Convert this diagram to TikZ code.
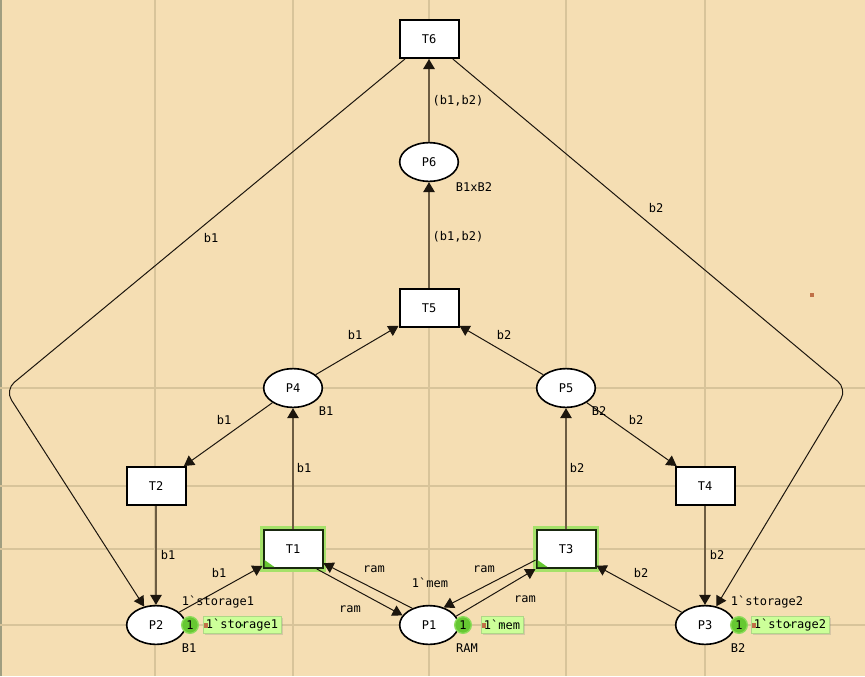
\documentclass[tikz,border=0pt]{standalone}
\usepackage{fontspec}
\setmonofont{DejaVu Sans Mono}
\usetikzlibrary{arrows.meta,shapes.geometric,shadows}

\definecolor{canvas}{RGB}{245,222,179}
\definecolor{guide}{RGB}{216,196,154}
\definecolor{pageedge}{RGB}{160,158,128}
\definecolor{arcink}{RGB}{28,22,14}
\definecolor{arcbrown}{RGB}{108,92,66}
\definecolor{tokengreen}{RGB}{102,200,50}
\definecolor{tokenrim}{RGB}{140,220,90}
\definecolor{markbox}{RGB}{204,255,153}
\definecolor{markrim}{RGB}{175,215,135}
\definecolor{glow}{RGB}{165,225,105}
\definecolor{enabledborder}{RGB}{25,40,15}
\definecolor{handle}{RGB}{192,112,72}
\definecolor{handledot}{RGB}{50,130,40}

\begin{document}
\begin{tikzpicture}[x=0.75pt,y=-0.75pt,
  font=\ttfamily\fontsize{9}{10.5}\selectfont,
  pntrans/.style={rectangle, draw=black, line width=1.5pt, fill=white,
    minimum width=44.25pt, minimum height=28.5pt, inner sep=0pt},
  pnenabled/.style={draw=enabledborder, preaction={draw=glow, line width=5.5pt}},
  pnplace/.style={ellipse, draw=black, line width=1.2pt, fill=white,
    minimum width=44pt, minimum height=29pt, inner sep=0pt},
  pnarc/.style={draw=arcink, line width=0.75pt,
    -{Triangle[length=7.5pt,width=8.5pt,color=arcink]}},
  guided/.style={draw=arcbrown, line width=1.4pt},
  lbl/.style={inner sep=0pt, text height=6.4pt, text depth=0pt, text=black},
  tokdot/.style={circle, fill=tokengreen, draw=tokenrim, line width=1pt,
    minimum size=12.5pt, inner sep=0pt, text=black},
  mkbox/.style={rectangle, fill=markbox, draw=markrim, line width=0.5pt,
    minimum height=12.75pt, inner xsep=2.2pt, inner ysep=0pt, text=black,
    drop shadow={opacity=0.25, shadow xshift=1.2pt, shadow yshift=-1.2pt}},
]
% page and guide lines
\useasboundingbox (0,0) rectangle (865,676);
\fill[canvas] (0,0) rectangle (865,676);
\draw[pageedge, line width=1.2pt] (0.8,0) -- (0.8,676);
\foreach \gx in {155,293,429,566,705}
  \draw[guide, line width=1.5pt] (\gx,0) -- (\gx,676);
\foreach \gy in {388,486,549,625}
  \draw[guide, line width=1.5pt] (0,\gy) -- (865,\gy);

% transitions and places
\node[pntrans] (t6) at (429,39) {T6};
\node[pnplace] (p6) at (429,162) {P6};
\node[pntrans] (t5) at (429,308) {T5};
\node[pnplace] (p4) at (293,388) {P4};
\node[pnplace] (p5) at (566,388) {P5};
\node[pntrans] (t2) at (156,486) {T2};
\node[pntrans] (t4) at (705,486) {T4};
\node[pntrans,pnenabled] (t1) at (293,549) {T1};
\node[pntrans,pnenabled] (t3) at (566,549) {T3};
\node[pnplace] (p2) at (156,625) {P2};
\node[pnplace] (p1) at (429,625) {P1};
\node[pnplace] (p3) at (705,625) {P3};

% enabled markers in the corner of T1 and T3
\fill[tokengreen] ([shift={(2,-2)}]t1.south west) -- ++(10,0) -- ++(-10,-7) -- cycle;
\fill[tokengreen] ([shift={(2,-2)}]t3.south west) -- ++(10,0) -- ++(-10,-7) -- cycle;

% bend points of the long arcs from T6
\coordinate (bendL) at (5,390);
\coordinate (bendR) at (847,389);

% arcs lying on guide lines
\draw[pnarc,guided] (p6) -- (t6);
\draw[pnarc,guided] (t5) -- (p6);
\draw[pnarc,guided] (t1) -- (p4);
\draw[pnarc,guided] (t3) -- (p5);
\draw[pnarc,guided] (t2) -- (p2);
\draw[pnarc,guided] (t4) -- (p3);

% diagonal arcs
\draw[pnarc] (p4) -- (t5);
\draw[pnarc] (p5) -- (t5);
\draw[pnarc] (p4) -- (t2);
\draw[pnarc] (p5) -- (t4);
\draw[pnarc] (p2) -- (t1);
\draw[pnarc] (p3) -- (t3);
\draw[pnarc] (t1.-40) -- (p1.160);
\draw[pnarc] (p1.135) -- (t1.-25);
\draw[pnarc] (t3.200) -- (p1.50);
\draw[pnarc] (p1.18) -- (t3.south west);
\draw[pnarc, rounded corners=9pt] (t6) -- (bendL) -- (p2);
\draw[pnarc, rounded corners=9pt] (t6) -- (bendR) -- (p3);

% initial markings
\node[tokdot] (k2) at (190,625) {1};
\node[mkbox] (m2) at (242,625) {1`storage1};
\node[tokdot] (k1) at (463,625) {1};
\node[mkbox] (m1) at (502,625) {1`mem};
\node[tokdot] (k3) at (739,625) {1};
\node[mkbox] (m3) at (790,625) {1`storage2};
\foreach \m in {m1,m2,m3} {
  \fill[handle] ([shift={(1,-2)}]\m.west) rectangle ++(4,5);
  \fill[handledot] (\m.center) circle (1.5);
}
\fill[handle] (810,293) rectangle (814,297);

% arc inscriptions
\node[lbl] (a1) at (458,100) {(b1,b2)};
\node[lbl] (a2) at (458,236) {(b1,b2)};
\node[lbl] (a3) at (355,335) {b1};
\node[lbl] (a4) at (504,335) {b2};
\node[lbl] (a5) at (224,420) {b1};
\node[lbl] (a6) at (636,420) {b2};
\node[lbl] (a7) at (304,468) {b1};
\node[lbl] (a8) at (577,468) {b2};
\node[lbl] (a9) at (168,555) {b1};
\node[lbl] (a10) at (717,555) {b2};
\node[lbl] (a11) at (219,573) {b1};
\node[lbl] (a12) at (641,573) {b2};
\node[lbl] (a13) at (374,568) {ram};
\node[lbl] (a14) at (350,608) {ram};
\node[lbl] (a15) at (484,568) {ram};
\node[lbl] (a16) at (525,598) {ram};
\node[lbl] (a17) at (211,238) {b1};
\node[lbl] (a18) at (656,208) {b2};

% colour sets and initial marking inscriptions
\node[lbl] (c6) at (474,187) {B1xB2};
\node[lbl] (c4) at (326,411) {B1};
\node[lbl] (c5) at (599,411) {B2};
\node[lbl] (c2) at (189,648) {B1};
\node[lbl] (c1) at (467,648) {RAM};
\node[lbl] (c3) at (738,648) {B2};
\node[lbl] (i2) at (218,601) {1`storage1};
\node[lbl] (i1) at (430,583) {1`mem};
\node[lbl] (i3) at (767,601) {1`storage2};
\end{tikzpicture}
\end{document}
